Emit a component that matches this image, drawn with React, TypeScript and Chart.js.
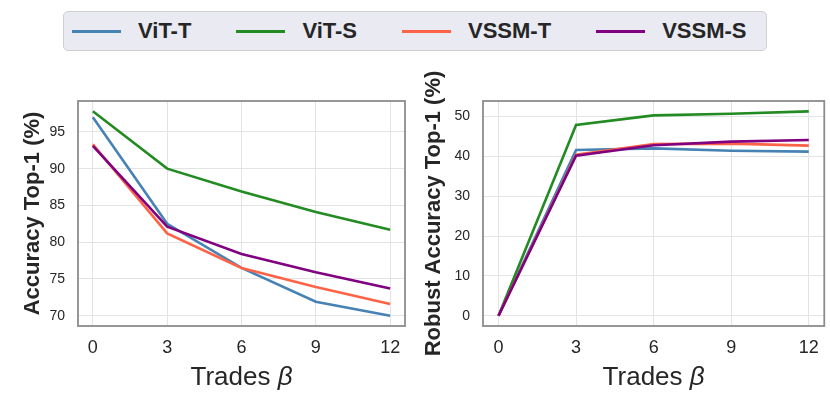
import { useEffect, useRef } from 'react';
import Chart from 'chart.js/auto';

const trades = [0, 3, 6, 9, 12];

const cleanVitT = [97.0, 82.5, 76.5, 71.9, 70.0];
const cleanVitS = [97.8, 90.0, 86.9, 84.1, 81.7];
const cleanVssmT = [93.3, 81.2, 76.5, 73.9, 71.6];
const cleanVssmS = [93.1, 82.1, 78.4, 75.9, 73.7];

const robustVitT = [0, 41.6, 42.0, 41.4, 41.2];
const robustVitS = [0, 47.9, 50.3, 50.7, 51.3];
const robustVssmT = [0, 40.4, 43.1, 43.2, 42.7];
const robustVssmS = [0, 40.2, 42.8, 43.7, 44.1];

const seriesNames = ['ViT-T', 'ViT-S', 'VSSM-T', 'VSSM-S'];
const seriesColors = ['#4682B4', '#228B22', '#FF6347', '#800080'];

const FONT = "'Liberation Sans', Arial, sans-serif";
const TEXT = '#262626';

// spines on all four sides + the "Trades β" label with an italic beta
const framePlugin = {
  id: 'frame',
  afterDraw(chart: any) {
    const { ctx, chartArea } = chart;
    ctx.save();
    ctx.strokeStyle = '#8c8c8c';
    ctx.lineWidth = 1.8;
    ctx.strokeRect(chartArea.left, chartArea.top, chartArea.right - chartArea.left, chartArea.bottom - chartArea.top);

    const a = 'Trades ';
    const b = 'β';
    ctx.fillStyle = TEXT;
    ctx.textBaseline = 'middle';
    ctx.textAlign = 'left';
    ctx.font = `26px ${FONT}`;
    const wa = ctx.measureText(a).width;
    ctx.font = `italic 26px ${FONT}`;
    const wb = ctx.measureText(b).width;
    const x0 = (chartArea.left + chartArea.right) / 2 - (wa + wb) / 2;
    const y = 318;
    ctx.font = `26px ${FONT}`;
    ctx.fillText(a, x0, y);
    ctx.font = `italic 26px ${FONT}`;
    ctx.fillText(b, x0 + wa, y);
    ctx.restore();
  },
};

type PanelProps = {
  values: number[][];
  yTitle: string;
  yMin: number;
  yMax: number;
  yStep: number;
  yWidth: number;
  titlePad: number;
  padRight: number;
};

const Panel = ({ values, yTitle, yMin, yMax, yStep, yWidth, titlePad, padRight }: PanelProps) => {
  const canvasRef = useRef<HTMLCanvasElement | null>(null);

  useEffect(() => {
    if (!canvasRef.current) return;
    const chart = new Chart(canvasRef.current, {
      type: 'line',
      data: {
        datasets: values.map((vals, i) => ({
          label: seriesNames[i],
          data: trades.map((t, j) => ({ x: t, y: vals[j] })),
          borderColor: seriesColors[i],
          backgroundColor: seriesColors[i],
          borderWidth: 2.6,
          pointRadius: 0,
          tension: 0,
          order: values.length - i,
        })),
      },
      options: {
        animation: false,
        responsive: true,
        maintainAspectRatio: false,
        layout: { padding: { top: 41, right: padRight, bottom: 0, left: 0 } },
        plugins: {
          legend: { display: false },
          tooltip: { enabled: false },
        },
        scales: {
          x: {
            type: 'linear',
            min: -0.6,
            max: 12.6,
            afterFit: (scale: any) => {
              scale.height = 89;
            },
            ticks: {
              stepSize: 3,
              includeBounds: false,
              color: TEXT,
              padding: 11,
              font: { family: FONT, size: 18 },
            },
            grid: { color: '#e3e3e3', lineWidth: 1, drawTicks: false },
            border: { display: false },
          },
          y: {
            min: yMin,
            max: yMax,
            afterFit: (scale: any) => {
              scale.width = yWidth;
            },
            ticks: {
              stepSize: yStep,
              includeBounds: false,
              color: TEXT,
              padding: 13,
              font: { family: FONT, size: 14 },
            },
            grid: { color: '#e3e3e3', lineWidth: 1, drawTicks: false },
            border: { display: false },
            title: {
              display: true,
              text: yTitle,
              color: TEXT,
              padding: { top: titlePad, bottom: 0 },
              font: { family: FONT, size: 22, weight: 'bold' },
            },
          },
        },
      },
      plugins: [framePlugin],
    });
    return () => {
      chart.destroy();
    };
  }, []);

  return <canvas ref={canvasRef}></canvas>;
};

const App = () => {
  useEffect(() => {
    document.body.style.margin = '0';
  }, []);

  return (
    <div style={{ position: 'relative', width: 830, height: 415, background: '#ffffff', fontFamily: FONT }}>
      <div
        style={{
          position: 'absolute',
          left: 63,
          top: 11,
          width: 704,
          height: 40,
          boxSizing: 'border-box',
          background: '#EAEAF2',
          border: '1.5px solid #cfcfcf',
          borderRadius: 5,
          display: 'flex',
          alignItems: 'center',
          paddingLeft: 8,
          overflow: 'hidden',
        }}
      >
        {seriesNames.map((name, i) => (
          <div
            key={name}
            style={{ display: 'flex', alignItems: 'center', marginRight: 45, flexShrink: 0, whiteSpace: 'nowrap' }}
          >
            <div style={{ width: 49, height: 3, background: seriesColors[i], marginRight: 17, flexShrink: 0 }} />
            <span style={{ fontSize: 22, fontWeight: 'bold', color: TEXT, whiteSpace: 'nowrap' }}>{name}</span>
          </div>
        ))}
      </div>
      <div style={{ position: 'absolute', left: 0, top: 60, width: 415, height: 355 }}>
        <Panel
          values={[cleanVitT, cleanVitS, cleanVssmT, cleanVssmS]}
          yTitle="Accuracy Top-1 (%)"
          yMin={68.6}
          yMax={99.2}
          yStep={5}
          yWidth={78}
          titlePad={20}
          padRight={10}
        />
      </div>
      <div style={{ position: 'absolute', left: 415, top: 60, width: 415, height: 355 }}>
        <Panel
          values={[robustVitT, robustVitS, robustVssmT, robustVssmS]}
          yTitle="Robust Accuracy Top-1 (%)"
          yMin={-2.57}
          yMax={53.9}
          yStep={10}
          yWidth={68}
          titlePad={6}
          padRight={5}
        />
      </div>
    </div>
  );
};

export default App;
